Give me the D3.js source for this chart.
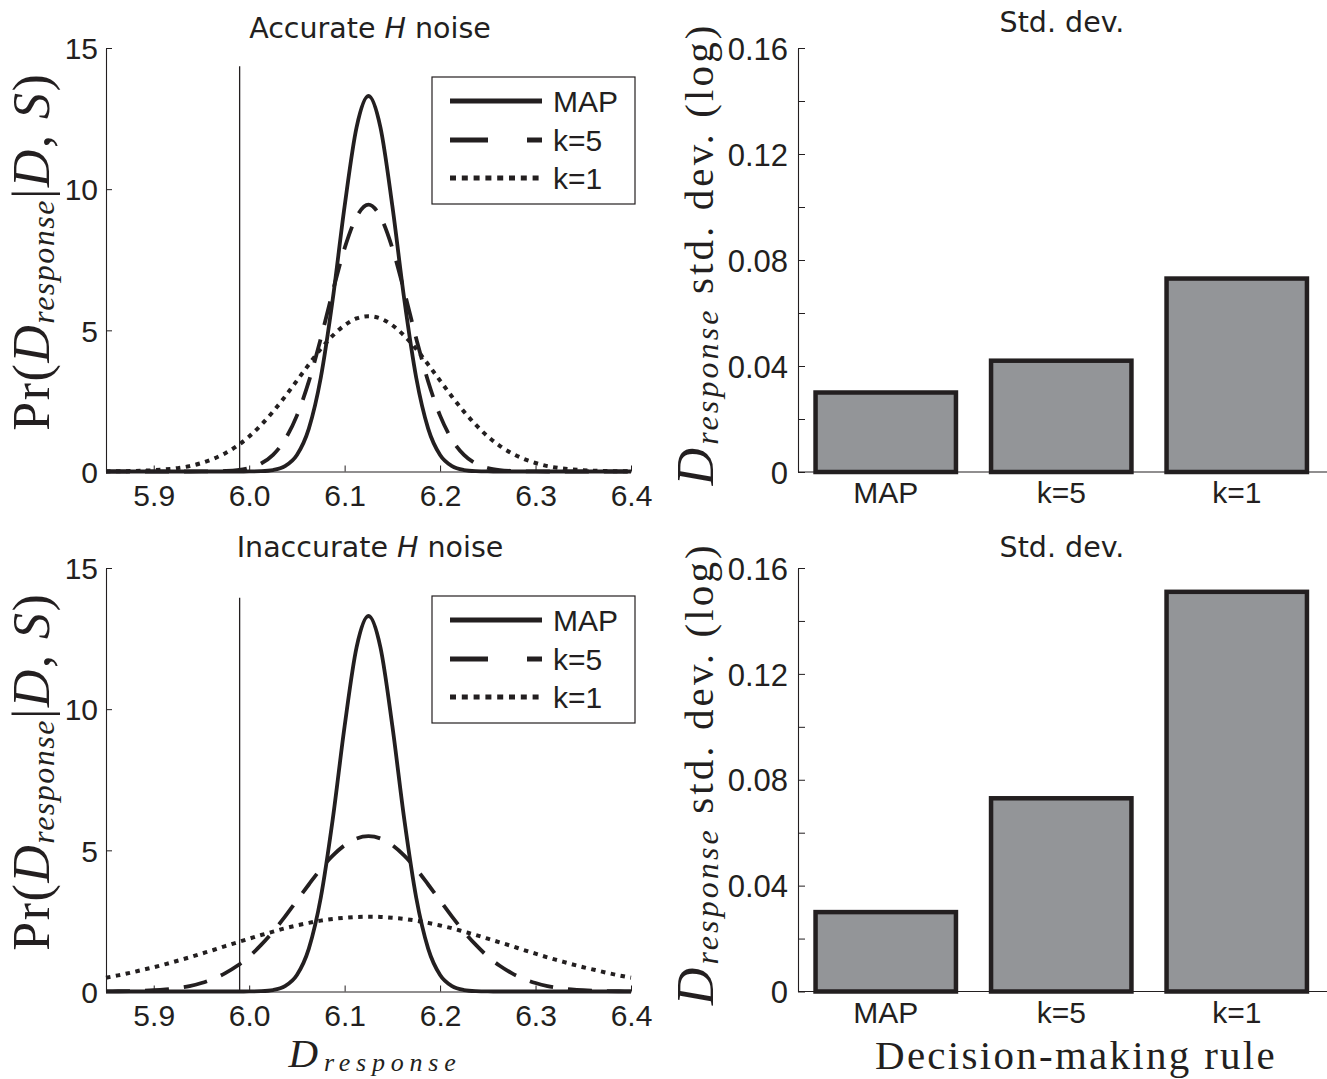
<!DOCTYPE html>
<head>
<meta charset="utf-8">
<title>Response distributions and std. dev.</title>
<script type="text/javascript" src="https://d3js.org/d3.v7.min.js"></script>
<style>
    body { margin: 0; background: #fff; }
    svg { display: block; }
</style>
</head>
<body>
<div id="chart"></div>
<script>

    // x grid of the density curves (D_response)
    var xGrid = [5.85, 5.8625, 5.875, 5.8875, 5.9, 5.9125, 5.925, 5.9375, 5.95, 5.9625, 5.975, 5.9875,
                 6.0, 6.0125, 6.025, 6.0375, 6.05, 6.0625, 6.075, 6.0875, 6.1, 6.1125, 6.125,
                 6.1375, 6.15, 6.1625, 6.175, 6.1875, 6.2, 6.2125, 6.225, 6.2375, 6.25, 6.2625,
                 6.275, 6.2875, 6.3, 6.3125, 6.325, 6.3375, 6.35, 6.3625, 6.375, 6.3875, 6.4];

    // accurate H noise
    var mapTop = [0,0,0,0,0,0,0,0,0,0,0,0,0.002,0.012,0.051,0.189,0.584,1.52,3.32,6.09,9.40,12.19,
                  13.3,
                  12.19,9.40,6.09,3.32,1.52,0.584,0.189,0.051,0.012,0.002,0,0,0,0,0,0,0,0,0,0,0,0];
    var k5Top = [0,0,0,0,0,0,0,0,0.002,0.006,0.019,0.050,0.124,0.283,0.59,1.13,1.98,3.19,4.71,6.37,7.91,9.02,
                 9.45,
                 9.02,7.91,6.37,4.71,3.19,1.98,1.13,0.59,0.283,0.124,0.050,0.019,0.006,0.002,0,0,0,0,0,0,0,0];
    var k1Top = [0.004,0.008,0.014,0.026,0.045,0.075,0.12,0.19,0.30,0.45,0.65,0.91,1.24,1.65,2.12,2.65,3.22,3.79,4.34,4.81,5.18,5.42,
                 5.5,
                 5.42,5.18,4.81,4.34,3.79,3.22,2.65,2.12,1.65,1.24,0.91,0.65,0.45,0.30,0.19,0.12,0.075,0.045,0.026,0.014,0.008,0.004];

    // inaccurate H noise
    var mapBottom = [0,0,0,0,0,0,0,0,0,0,0,0,0.002,0.012,0.051,0.189,0.584,1.52,3.32,6.09,9.40,12.19,
                     13.3,
                     12.19,9.40,6.09,3.32,1.52,0.584,0.189,0.051,0.012,0.002,0,0,0,0,0,0,0,0,0,0,0,0];
    var k5Bottom = [0.004,0.008,0.014,0.026,0.045,0.075,0.12,0.19,0.30,0.45,0.65,0.91,1.24,1.65,2.12,2.65,3.22,3.79,4.34,4.81,5.18,5.42,
                    5.5,
                    5.42,5.18,4.81,4.34,3.79,3.22,2.65,2.12,1.65,1.24,0.91,0.65,0.45,0.30,0.19,0.12,0.075,0.045,0.026,0.014,0.008,0.004];
    var k1Bottom = [0.49,0.57,0.66,0.76,0.86,0.97,1.09,1.21,1.34,1.47,1.61,1.74,1.87,2.00,2.12,2.24,2.34,2.43,2.51,2.57,2.61,2.64,
                    2.65,
                    2.64,2.61,2.57,2.51,2.43,2.34,2.24,2.12,2.00,1.87,1.74,1.61,1.47,1.34,1.21,1.09,0.97,0.86,0.76,0.66,0.57,0.49];

    // vertical reference line (x position, top value per panel)
    var refX = 5.99;
    var refTops = [14.35, 13.95];

    var xTicks = [5.9, 6.0, 6.1, 6.2, 6.3, 6.4];
    var yTicksPdf = [0, 5, 10, 15];

    // bar charts
    var rules = ["MAP", "k=5", "k=1"];
    var sdTop = [0.030, 0.042, 0.073];
    var sdBottom = [0.030, 0.073, 0.151];
    var sdTicks = [0, 0.04, 0.08, 0.12, 0.16];
    var sdMinor = [0.02, 0.06, 0.10, 0.14];

    var ink = "#231f20";
    var sans = "'Liberation Sans', Arial, sans-serif";
    var titleFont = "'DejaVu Sans', sans-serif";
    var serif = "'Liberation Serif', 'Times New Roman', serif";

    var svg = d3.select("#chart").append("svg")
        .attr("width", 1327)
        .attr("height", 1079)
        .style("background", "#fff");

    // LaTeX-like label: parts with own size / italic / subscript,
    // letter spacing stretched so the whole label spans `target` px
    function mathLabel(x, y, rot, target, subDrop, parts) {
        var g = svg.append("g").attr("transform", "translate(" + x + "," + y + ") rotate(" + rot + ")");
        var t = g.append("text")
            .attr("text-anchor", "middle")
            .style("font-family", serif)
            .attr("fill", ink);
        var wasSub = false, nChars = 0;
        var spans = parts.map(function(p) {
            var ts = t.append("tspan").text(p.t).style("font-size", p.size + "px");
            if (p.it) ts.style("font-style", "italic");
            if (p.sub && !wasSub) ts.attr("dy", subDrop);
            if (!p.sub && wasSub) ts.attr("dy", -subDrop);
            wasSub = !!p.sub;
            nChars += p.t.length;
            return ts;
        });
        var w = t.node().getBBox().width;
        var ls = Math.max(0, (target - w) / nChars);
        spans.forEach(function(s) { s.style("letter-spacing", ls + "px"); });
    }

    function curvePanel(yTop, yBot, series, refTop, titleBase, titleWord, legendTop) {
        var x = d3.scaleLinear().domain([5.85, 6.4]).range([106, 631]);
        var y = d3.scaleLinear().domain([0, 15]).range([yBot, yTop]);
        var g = svg.append("g");

        // reference line
        g.append("line")
            .attr("x1", x(refX)).attr("x2", x(refX))
            .attr("y1", y(0)).attr("y2", y(refTop))
            .attr("stroke", ink).attr("stroke-width", 1.3);

        var line = d3.line()
            .x(function(d, i) { return x(xGrid[i]); })
            .y(function(d) { return y(d); })
            .curve(d3.curveMonotoneX);

        var styles = [
            { data: series[2], dash: "4.5,5.5", w: 4 },
            { data: series[1], dash: "24,15", w: 3.8 },
            { data: series[0], dash: null, w: 3.8 }
        ];
        styles.forEach(function(s) {
            g.append("path")
                .attr("d", line(s.data))
                .attr("fill", "none")
                .attr("stroke", ink)
                .attr("stroke-width", s.w)
                .attr("stroke-dasharray", s.dash);
        });

        // axes (ticks point inwards)
        var xa = g.append("g")
            .attr("transform", "translate(0," + yBot + ")")
            .call(d3.axisBottom(x).tickValues(xTicks).tickSizeInner(-6).tickSizeOuter(0)
                .tickFormat(d3.format(".1f")));
        xa.selectAll("text").attr("y", 34).attr("dy", null);
        var ya = g.append("g")
            .attr("transform", "translate(106,0)")
            .call(d3.axisLeft(y).tickValues(yTicksPdf).tickSizeInner(-6).tickSizeOuter(0).tickPadding(8));
        ya.selectAll("text").attr("dy", "0.36em");
        [xa, ya].forEach(function(a) {
            a.attr("color", ink).style("font-family", sans).style("font-size", "30px");
            a.select(".domain").attr("stroke-width", 1.1);
        });

        // title
        var tt = svg.append("text")
            .attr("x", 370).attr("y", titleBase)
            .attr("text-anchor", "middle")
            .style("font-family", titleFont).style("font-size", "28.5px")
            .attr("fill", ink);
        tt.append("tspan").text(titleWord + " ");
        tt.append("tspan").text("H").style("font-style", "italic");
        tt.append("tspan").text(" noise");

        // legend
        var lg = svg.append("g").attr("transform", "translate(432," + legendTop + ")");
        lg.append("rect").attr("width", 203).attr("height", 127)
            .attr("fill", "#fff").attr("stroke", ink).attr("stroke-width", 1.2);
        var leg = [
            { name: "MAP", dash: null, yy: 24 },
            { name: "k=5", dash: "38,39", yy: 63 },
            { name: "k=1", dash: "6,5.8", yy: 101 }
        ];
        leg.forEach(function(l) {
            lg.append("line").attr("x1", 18).attr("x2", 110).attr("y1", l.yy).attr("y2", l.yy)
                .attr("stroke", ink).attr("stroke-width", 5).attr("stroke-dasharray", l.dash);
            lg.append("text").attr("x", 121).attr("y", l.yy + 11)
                .style("font-family", sans).style("font-size", "30px").attr("fill", ink)
                .text(l.name);
        });

        // y label
        mathLabel(49, (yTop + yBot) / 2 - 8, -90, 358, 5, [
            { t: "Pr(", size: 52 }, { t: "D", it: true, size: 52 }, { t: "response", it: true, sub: true, size: 32 },
            { t: "|", size: 52 }, { t: "D", it: true, size: 52 }, { t: ", ", size: 52 },
            { t: "S", it: true, size: 52 }, { t: ")", size: 52 }
        ]);
    }

    function barPanel(yTop, yBot, values, titleBase) {
        var x = d3.scaleBand().domain(rules).range([798, 1324.5]).paddingInner(0.2).paddingOuter(0.1);
        var y = d3.scaleLinear().domain([0, 0.16]).range([yBot, yTop]);
        var g = svg.append("g");

        g.selectAll("rect.bar")
            .data(values)
            .enter()
            .append("rect")
            .attr("class", "bar")
            .attr("x", function(d, i) { return x(rules[i]); })
            .attr("y", function(d) { return y(d); })
            .attr("width", x.bandwidth())
            .attr("height", function(d) { return y(0) - y(d); })
            .attr("fill", "#939598")
            .attr("stroke", ink)
            .attr("stroke-width", 4.5);

        // x axis line and category labels
        g.append("line").attr("x1", 798).attr("x2", 1327).attr("y1", yBot).attr("y2", yBot)
            .attr("stroke", ink).attr("stroke-width", 1.1);
        var xa = g.append("g")
            .attr("transform", "translate(0," + yBot + ")")
            .call(d3.axisBottom(x).tickSize(0));
        xa.select(".domain").remove();
        xa.selectAll("text").attr("y", 31).attr("dy", null);
        xa.attr("color", ink).style("font-family", sans).style("font-size", "30px");

        var ya = g.append("g")
            .attr("transform", "translate(798,0)")
            .call(d3.axisLeft(y).tickValues(sdTicks).tickSizeInner(-7).tickSizeOuter(0).tickPadding(10)
                .tickFormat(function(d) { return d === 0 ? "0" : d3.format(".2f")(d); }));
        ya.selectAll("text").attr("dy", "0.36em");
        ya.attr("color", ink).style("font-family", sans).style("font-size", "31px");
        ya.select(".domain").attr("stroke-width", 1.1);
        g.append("g")
            .attr("transform", "translate(798,0)")
            .call(d3.axisLeft(y).tickValues(sdMinor).tickSizeInner(-7).tickSizeOuter(0).tickFormat(""))
            .attr("color", ink)
            .select(".domain").remove();

        svg.append("text")
            .attr("x", 1062).attr("y", titleBase)
            .attr("text-anchor", "middle")
            .style("font-family", titleFont).style("font-size", "28.5px")
            .attr("fill", ink)
            .text("Std. dev.");

        mathLabel(713, (yTop + yBot) / 2 - 6, -90, 464, 5, [
            { t: "D", it: true, size: 52 }, { t: "response", it: true, sub: true, size: 32 },
            { t: " std. dev. (log)", size: 41 }
        ]);
    }

    curvePanel(48, 471.5, [mapTop, k5Top, k1Top], refTops[0], 38, "Accurate", 77);
    curvePanel(568, 991.5, [mapBottom, k5Bottom, k1Bottom], refTops[1], 557, "Inaccurate", 596);
    barPanel(48, 472, sdTop, 32);
    barPanel(568, 991.5, sdBottom, 557);

    // bottom x labels
    mathLabel(375, 1067, 0, 174, 4, [{ t: "D", it: true, size: 41 }, { t: "response", it: true, sub: true, size: 26 }]);
    mathLabel(1076, 1069, 0, 402, 0, [{ t: "Decision-making rule", size: 41 }]);

</script>
</body>
